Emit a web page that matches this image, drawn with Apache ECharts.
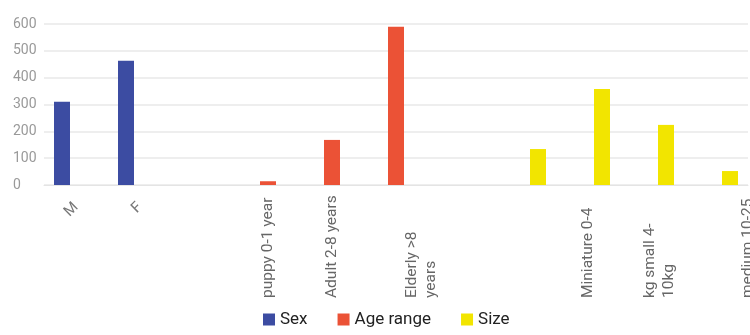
<!DOCTYPE html>
<html>
<head>
<meta charset="utf-8">
<script src="https://cdn.jsdelivr.net/npm/echarts@6/dist/echarts.min.js"></script>
<style>
  html, body { margin: 0; padding: 0; background: #fff; }
  #chart { width: 750px; height: 335px; }
</style>
</head>
<body>
<div id="chart"></div>
<script>
// categories (empty ones are the gaps between groups)
var categories = ['M', 'F', '', 'puppy', 'adult', 'elderly', '', 'miniature', 'small', 'medium', 'large']
// labels as they show under the axis
var tiltLabels = ['M', 'F', '', '', '', '', '', '', '', '', '']
var upLabels = ['', '', '', 'puppy 0-1 year', 'Adult 2-8 years', 'Elderly >8\nyears', '', '', 'Miniature 0-4', 'kg small 4-\n10kg', 'medium 10-25']
// px to push a vertical label right of its tick
var labelShift = [0, 0, 0, 0, 0, 26, 0, 0, 0, 8, 32]

var sexValues = [310, 463, null, null, null, null, null, null, null, null, null]
var ageValues = [null, null, null, 14, 168, 590, null, null, null, null, null]
var sizeValues = [null, null, null, null, null, null, null, 134, 358, 224, 52]

var yTicks = { min: 0, max: 600, interval: 100 }

var myChart = echarts.init(document.getElementById('chart'))

var upRich = {
  a: {
    width: 110,
    align: 'left',
    fontSize: 15.5,
    lineHeight: 19,
    color: '#666',
    fontFamily: 'Roboto'
  }
}
labelShift.forEach(function (s) {
  if (s) upRich['g' + s] = { fontSize: 1, lineHeight: s * 2 }
})

// fixed length box so the vertical labels share a common bottom edge
function upLabel (v, i) {
  var t = upLabels[i]
  if (!t) return ''
  var lines = []
  if (labelShift[i]) lines.push('{g' + labelShift[i] + '| }')
  t.split('\n').forEach(function (s) { lines.push('{a|' + s + '}') })
  return lines.join('\n')
}

myChart.setOption({
  animation: false,
  color: ['#3c4ca2', '#eb5236', '#f2e500'],
  grid: { left: 44, right: 2, top: 24, bottom: 150, containLabel: false, outerBoundsMode: 'none' },
  legend: {
    left: 258,
    top: 306,
    icon: 'rect',
    itemWidth: 12,
    itemHeight: 12,
    itemGap: 30,
    textStyle: { fontSize: 17, color: '#222', fontFamily: 'Roboto' },
    data: ['Sex', 'Age range', 'Size']
  },
  xAxis: [
    {
      type: 'category',
      data: categories,
      axisLine: { lineStyle: { color: '#e4e4e4' } },
      axisTick: { show: false },
      axisLabel: {
        interval: 0,
        rotate: 45,
        margin: 20,
        fontSize: 15,
        color: '#777',
        fontFamily: 'Roboto',
        formatter: function (v, i) { return tiltLabels[i] }
      }
    },
    {
      type: 'category',
      position: 'bottom',
      data: categories,
      axisLine: { show: false },
      axisTick: { show: false },
      axisLabel: {
        interval: 0,
        rotate: 90,
        margin: 3,
        formatter: upLabel,
        rich: upRich
      }
    }
  ],
  yAxis: {
    type: 'value',
    min: yTicks.min,
    max: yTicks.max,
    interval: yTicks.interval,
    axisLine: { show: false },
    axisTick: { show: false },
    splitLine: { lineStyle: { color: '#e8e8e8', width: 1.5 } },
    axisLabel: {
      align: 'left',
      margin: 31,
      fontSize: 14,
      color: '#999',
      fontFamily: 'Roboto'
    }
  },
  series: [
    { name: 'Sex', type: 'bar', data: sexValues, barWidth: 16, barGap: '-12.5%' },
    { name: 'Age range', type: 'bar', data: ageValues, barWidth: 16, barGap: '-12.5%' },
    { name: 'Size', type: 'bar', data: sizeValues, barWidth: 16, barGap: '-12.5%' }
  ]
})
</script>
</body>
</html>
